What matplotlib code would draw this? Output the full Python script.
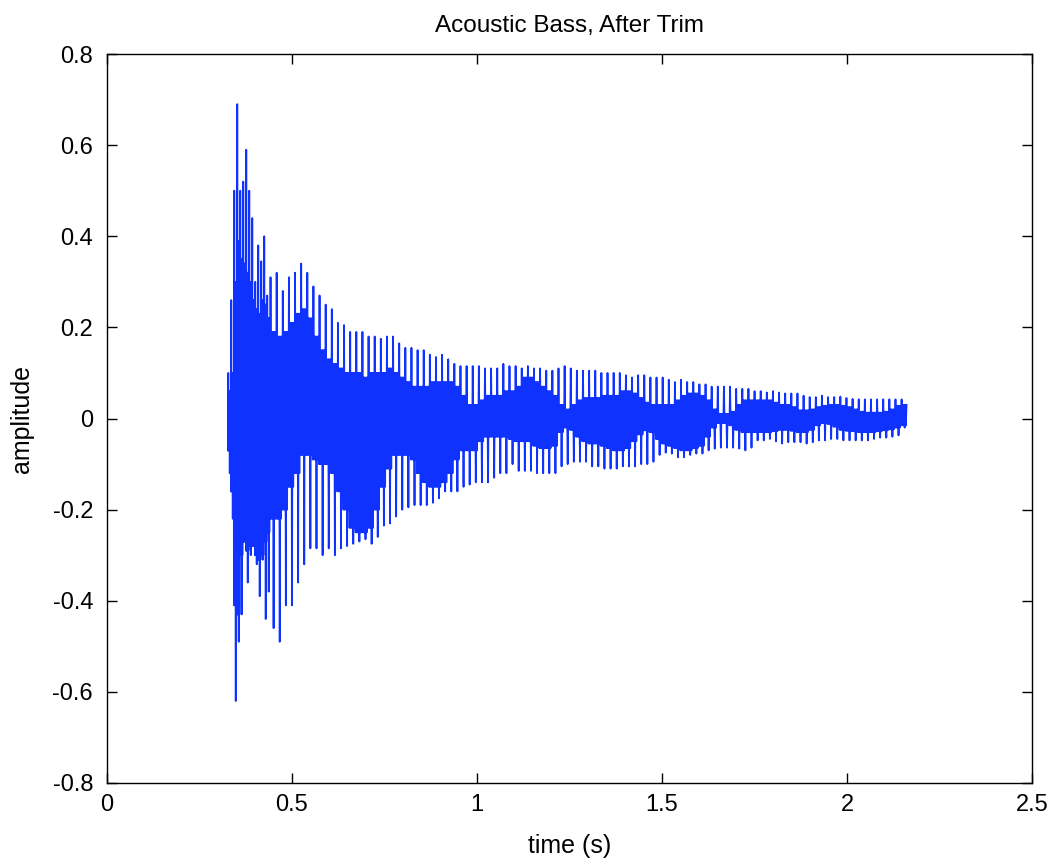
import numpy as np
import matplotlib
matplotlib.use("Agg")
import matplotlib.pyplot as plt

plt.rcParams['font.family'] = ['Liberation Sans', 'DejaVu Sans']

# attack part (first ~0.11 s), short steps
attack_start = 0.327
attack_step = 0.0081
attack_peak_hi = [0.10, 0.26, 0.50, 0.69, 0.50, 0.52, 0.59, 0.50, 0.44, 0.30, 0.38, 0.345, 0.40, 0.27]
attack_peak_lo = [-0.12, -0.22, -0.62, -0.49, -0.43, -0.27, -0.36, -0.30, -0.27, -0.32, -0.39, -0.31, -0.44, -0.38]
attack_body_hi = [0.06, 0.10, 0.30, 0.39, 0.35, 0.34, 0.32, 0.30, 0.26, 0.24, 0.23, 0.26, 0.25, 0.22]
attack_body_lo = [-0.07, -0.16, -0.41, -0.43, -0.30, -0.27, -0.29, -0.28, -0.28, -0.30, -0.31, -0.30, -0.27, -0.25]

# decay part, one entry per period of the note
cycle_start = 0.4404
cycle_period = 0.01656
peak_hi = [0.31, 0.32, 0.28, 0.31, 0.32, 0.34, 0.32, 0.29, 0.27, 0.25,
           0.24, 0.21, 0.205, 0.19, 0.19, 0.19, 0.18, 0.18, 0.175, 0.18,
           0.18, 0.165, 0.155, 0.155, 0.15, 0.15, 0.14, 0.135, 0.14, 0.13,
           0.12, 0.115, 0.115, 0.115, 0.115, 0.11, 0.11, 0.11, 0.12, 0.115,
           0.115, 0.11, 0.115, 0.11, 0.11, 0.105, 0.105, 0.11, 0.115, 0.11,
           0.105, 0.105, 0.105, 0.105, 0.10, 0.10, 0.10, 0.10, 0.095, 0.09,
           0.095, 0.095, 0.09, 0.09, 0.09, 0.085, 0.08, 0.085, 0.08, 0.08,
           0.075, 0.075, 0.07, 0.07, 0.07, 0.07, 0.065, 0.065, 0.065, 0.06,
           0.06, 0.057, 0.06, 0.057, 0.055, 0.055, 0.055, 0.05, 0.047, 0.047,
           0.05, 0.047, 0.047, 0.048, 0.045, 0.043, 0.042, 0.042, 0.042, 0.042,
           0.042, 0.042, 0.042, 0.042]
peak_lo = [-0.46, -0.49, -0.41, -0.41, -0.36, -0.32, -0.285, -0.285, -0.30, -0.285,
           -0.30, -0.285, -0.28, -0.275, -0.27, -0.265, -0.275, -0.26, -0.235, -0.23,
           -0.215, -0.20, -0.195, -0.19, -0.19, -0.19, -0.185, -0.175, -0.16, -0.16,
           -0.16, -0.15, -0.145, -0.14, -0.14, -0.14, -0.13, -0.12, -0.12, -0.10,
           -0.115, -0.115, -0.115, -0.12, -0.12, -0.12, -0.12, -0.105, -0.10, -0.095,
           -0.095, -0.095, -0.105, -0.105, -0.11, -0.11, -0.11, -0.105, -0.105, -0.105,
           -0.10, -0.10, -0.095, -0.08, -0.075, -0.077, -0.085, -0.085, -0.08, -0.077,
           -0.077, -0.07, -0.066, -0.064, -0.064, -0.064, -0.066, -0.07, -0.064, -0.048,
           -0.048, -0.045, -0.05, -0.055, -0.052, -0.052, -0.052, -0.055, -0.052, -0.048,
           -0.048, -0.045, -0.045, -0.048, -0.048, -0.048, -0.048, -0.048, -0.045, -0.042,
           -0.042, -0.04, -0.037, -0.02]
body_hi = [0.19, 0.18, 0.19, 0.21, 0.23, 0.24, 0.22, 0.18, 0.15, 0.13,
           0.12, 0.11, 0.10, 0.10, 0.10, 0.09, 0.10, 0.10, 0.10, 0.11,
           0.10, 0.09, 0.08, 0.07, 0.07, 0.07, 0.08, 0.08, 0.08, 0.08,
           0.07, 0.05, 0.03, 0.03, 0.04, 0.05, 0.05, 0.05, 0.06, 0.06,
           0.07, 0.09, 0.09, 0.08, 0.07, 0.06, 0.05, 0.03, 0.02, 0.03,
           0.04, 0.045, 0.045, 0.045, 0.05, 0.05, 0.05, 0.06, 0.06, 0.055,
           0.045, 0.035, 0.03, 0.03, 0.03, 0.03, 0.04, 0.05, 0.055, 0.055,
           0.05, 0.04, 0.02, 0.01, 0.01, 0.015, 0.03, 0.04, 0.04, 0.04,
           0.04, 0.04, 0.035, 0.03, 0.03, 0.025, 0.018, 0.018, 0.02, 0.025,
           0.028, 0.03, 0.03, 0.028, 0.025, 0.02, 0.015, 0.013, 0.013, 0.013,
           0.015, 0.02, 0.028, 0.03]
body_lo = [-0.22, -0.22, -0.20, -0.15, -0.12, -0.08, -0.08, -0.09, -0.10, -0.10,
           -0.12, -0.16, -0.20, -0.24, -0.25, -0.25, -0.24, -0.20, -0.15, -0.11,
           -0.08, -0.08, -0.08, -0.09, -0.12, -0.14, -0.15, -0.15, -0.14, -0.12,
           -0.09, -0.07, -0.07, -0.07, -0.05, -0.04, -0.04, -0.04, -0.04, -0.045,
           -0.05, -0.05, -0.05, -0.06, -0.065, -0.065, -0.06, -0.03, -0.02, -0.025,
           -0.04, -0.05, -0.055, -0.055, -0.06, -0.065, -0.07, -0.07, -0.065, -0.05,
           -0.035, -0.026, -0.03, -0.045, -0.055, -0.06, -0.065, -0.07, -0.07, -0.065,
           -0.06, -0.04, -0.02, -0.01, -0.01, -0.015, -0.025, -0.03, -0.03, -0.03,
           -0.03, -0.03, -0.028, -0.025, -0.025, -0.027, -0.03, -0.03, -0.025, -0.015,
           -0.01, -0.012, -0.018, -0.025, -0.027, -0.028, -0.03, -0.03, -0.03, -0.028,
           -0.026, -0.024, -0.02, -0.015]

x_ticks = [0, 0.5, 1, 1.5, 2, 2.5]
x_labels = ['0', '0.5', '1', '1.5', '2', '2.5']
y_ticks = [-0.8, -0.6, -0.4, -0.2, 0, 0.2, 0.4, 0.6, 0.8]
y_labels = ['-0.8', '-0.6', '-0.4', '-0.2', '0', '0.2', '0.4', '0.6', '0.8']


def trace(start, step, p_hi, p_lo, b_hi, b_lo):
    # one spike up, one spike down, dense body in between, per step
    t, y = [], []
    for k in range(len(p_hi)):
        vals = [b_lo[k], p_hi[k], b_lo[k], b_hi[k], b_lo[k],
                b_hi[k], p_lo[k], b_hi[k], b_lo[k], b_hi[k]]
        for i, v in enumerate(vals):
            t.append(start + (k + i / len(vals)) * step)
            y.append(v)
    return t, y


t1, y1 = trace(attack_start, attack_step, attack_peak_hi, attack_peak_lo,
               attack_body_hi, attack_body_lo)
t2, y2 = trace(cycle_start, cycle_period, peak_hi, peak_lo, body_hi, body_lo)
t = np.array(t1 + t2)
y = np.array(y1 + y2)

fig = plt.figure(figsize=(10.53, 8.63), dpi=100)
ax = fig.add_axes([0.1016, 0.0927, 0.8784, 0.8447])
ax.plot(t, y, color='#1032ff', linewidth=1.3)

ax.set_xlim(0, 2.5)
ax.set_ylim(-0.8, 0.8)
ax.set_xticks(x_ticks)
ax.set_xticklabels(x_labels)
ax.set_yticks(y_ticks)
ax.set_yticklabels(y_labels)
ax.tick_params(direction='in', length=7, width=1, top=True, right=True,
               labelsize=17)
ax.tick_params(axis='x', pad=8)
ax.tick_params(axis='y', pad=10)
for s in ax.spines.values():
    s.set_linewidth(1.0)

ax.set_title('Acoustic Bass, After Trim', fontsize=17.5, pad=16)
ax.set_xlabel('time (s)', fontsize=18, labelpad=13)
ax.set_ylabel('amplitude', fontsize=18, labelpad=13)

fig.savefig('out.png', dpi=100)
